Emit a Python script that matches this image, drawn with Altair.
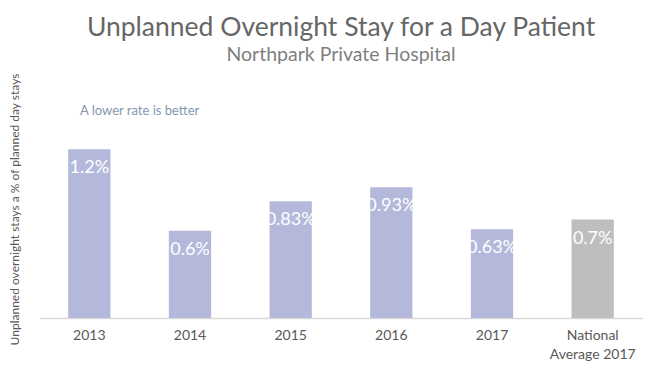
import altair as alt
import pandas as pd

categories = ["2013", "2014", "2015", "2016", "2017", "National Average 2017"]
values = [1.2, 0.62, 0.83, 0.93, 0.63, 0.7]
labels = ["1.2%", "0.6%", "0.83%", "0.93%", "0.63%", "0.7%"]
groups = ["hospital", "hospital", "hospital", "hospital", "hospital", "national"]

df = pd.DataFrame({"cat": categories, "val": values, "lab": labels, "grp": groups})

x_enc = alt.X(
    "cat:N",
    sort=categories,
    scale=alt.Scale(paddingInner=0.58, paddingOuter=0.28),
    axis=alt.Axis(
        title=None,
        labelAngle=0,
        labelFont="Lato",
        labelFontSize=14,
        labelColor="#595959",
        labelPadding=10,
        labelLineHeight=19,
        labelExpr="datum.value == 'National Average 2017' ? ['National', 'Average 2017'] : datum.label",
        ticks=False,
        domainColor="#D9D9D9",
        domainWidth=1.5,
    ),
)

y_enc = alt.Y(
    "val:Q",
    scale=alt.Scale(domain=[0, 1.4]),
    axis=alt.Axis(
        title="Unplanned overnight stays a % of planned day stays",
        titleFont="Lato",
        titleFontSize=12,
        titleFontWeight="normal",
        titleColor="#595959",
        titleAngle=270,
        titleBaseline="middle",
        titleAlign="center",
        titleX=-26,
        titleY=88,
        labels=False,
        ticks=False,
        domain=False,
        grid=False,
    ),
)

bars = alt.Chart(df).mark_bar().encode(
    x=x_enc,
    y=y_enc,
    color=alt.Color(
        "grp:N",
        scale=alt.Scale(domain=["hospital", "national"], range=["#B4B9DC", "#BEBEBE"]),
        legend=None,
    ),
)

text = alt.Chart(df).mark_text(
    baseline="top", dy=10, font="Lato", fontSize=18, color="white"
).encode(x=alt.X("cat:N", sort=categories), y="val:Q", text="lab:N")

note = alt.Chart(pd.DataFrame({"t": ["A lower rate is better"]})).mark_text(
    align="left", baseline="middle", font="Lato", fontSize=13, color="#8497B0"
).encode(x=alt.value(40), y=alt.value(-10), text="t:N")

chart = (
    alt.layer(bars, text, note)
    .properties(
        width=602,
        height=197,
        autosize=alt.AutoSizeParams(type="none"),
        padding={"left": 32, "top": 113, "right": 5, "bottom": 50},
        title=alt.TitleParams(
            text="Unplanned Overnight Stay for a Day Patient",
            subtitle="Northpark Private Hospital",
            font="Lato",
            fontSize=26.5,
            fontWeight="normal",
            color="#666666",
            subtitleFont="Lato",
            subtitleFontSize=19.5,
            subtitleColor="#7F7F7F",
            subtitlePadding=5,
            anchor="middle",
            frame="group",
            offset=8,
        ),
    )
    .configure_view(stroke=None)
)

chart.save("out.html", embed_options={"renderer": "svg", "actions": False})
